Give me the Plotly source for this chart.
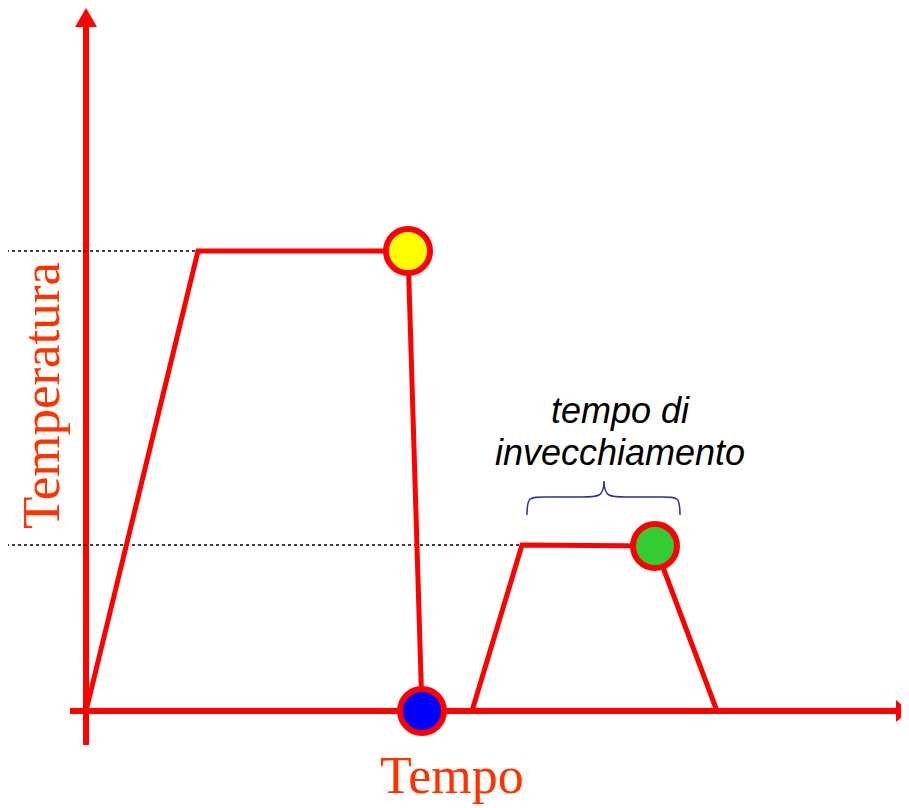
import plotly.graph_objects as go

# Data (time, temperature) in chart units; origin at the axes' crossing
solution_t = [0, 112, 322, 336]
solution_T = [0, 460, 460, 0]
aging_t = [386, 436, 569, 631]
aging_T = [0, 166, 165, 0]
marker_t = [322, 336, 569]
marker_T = [460, 0, 165]
marker_colors = ["#FFFF00", "#0000FF", "#33CC33"]
level_T = [460, 166]
level_end_t = [112, 436]

RED = "#FF0000"
TXT = "#FF3300"

fig = go.Figure()

# axis lines
fig.add_trace(go.Scatter(x=[0, 0], y=[-34, 690], mode="lines",
                         line=dict(color=RED, width=6), hoverinfo="skip"))
fig.add_trace(go.Scatter(x=[-16, 812], y=[0, 0], mode="lines",
                         line=dict(color=RED, width=6), hoverinfo="skip"))

# dotted reference levels
for T, tend in zip(level_T, level_end_t):
    fig.add_trace(go.Scatter(x=[-86, tend], y=[T, T], mode="lines",
                             line=dict(color="black", width=1.5, dash="dot"),
                             hoverinfo="skip"))

# heat treatment curves
fig.add_trace(go.Scatter(x=solution_t, y=solution_T, mode="lines",
                         line=dict(color=RED, width=5), hoverinfo="skip"))
fig.add_trace(go.Scatter(x=aging_t, y=aging_T, mode="lines",
                         line=dict(color=RED, width=5), hoverinfo="skip"))

# markers
fig.add_trace(go.Scatter(x=marker_t, y=marker_T, mode="markers",
                         marker=dict(size=44, color=marker_colors,
                                     line=dict(color=RED, width=6)),
                         hoverinfo="skip"))

# arrowheads
fig.add_shape(type="path", path="M 0,703 L -11,684 L 11,684 Z",
              fillcolor=RED, line=dict(width=0), xref="x", yref="y")
fig.add_shape(type="path", path="M 823,0 L 810,11 L 810,-11 Z",
              fillcolor=RED, line=dict(width=0), xref="x", yref="y")

# brace over aging time
bx0, bx1, bmid = 441, 594, 518
yb, ya, yp = -515 + 711, -497 + 711, -481 + 711
brace = (f"M {bx0},{yb} C {bx0},{ya} {bx0+2},{ya} {bx0+18},{ya} "
         f"L {bmid-22},{ya} C {bmid-6},{ya} {bmid},{ya} {bmid},{yp} "
         f"C {bmid},{ya} {bmid+6},{ya} {bmid+22},{ya} "
         f"L {bx1-18},{ya} C {bx1-2},{ya} {bx1},{ya} {bx1},{yb}")
fig.add_shape(type="path", path=brace, line=dict(color="#2E3192", width=1.5),
              xref="x", yref="y")

# texts
fig.add_annotation(x=534, y=711 - 410, text="tempo di", showarrow=False,
                   font=dict(family="Liberation Sans", size=36, color="black",
                             style="italic"))
fig.add_annotation(x=534, y=711 - 452, text="invecchiamento", showarrow=False,
                   font=dict(family="Liberation Sans", size=36, color="black",
                             style="italic"))
fig.add_annotation(x=366, y=711 - 775, text="Tempo", showarrow=False,
                   borderpad=0,
                   font=dict(family="Liberation Serif", size=52, color=TXT))
fig.add_annotation(x=-45, y=711 - 396, text="Temperatura", showarrow=False,
                   textangle=-90,
                   font=dict(family="Liberation Serif", size=53, color=TXT))

# page has an 8px body margin: map plot area to reference pixels 8..909 / 8..808
fig.update_layout(
    width=901, height=800, margin=dict(l=0, r=0, t=0, b=0),
    paper_bgcolor="white", plot_bgcolor="white", showlegend=False,
    xaxis=dict(range=[-78, 823], visible=False, fixedrange=True),
    yaxis=dict(range=[-97, 703], visible=False, fixedrange=True),
)

fig.write_html("out.html")
